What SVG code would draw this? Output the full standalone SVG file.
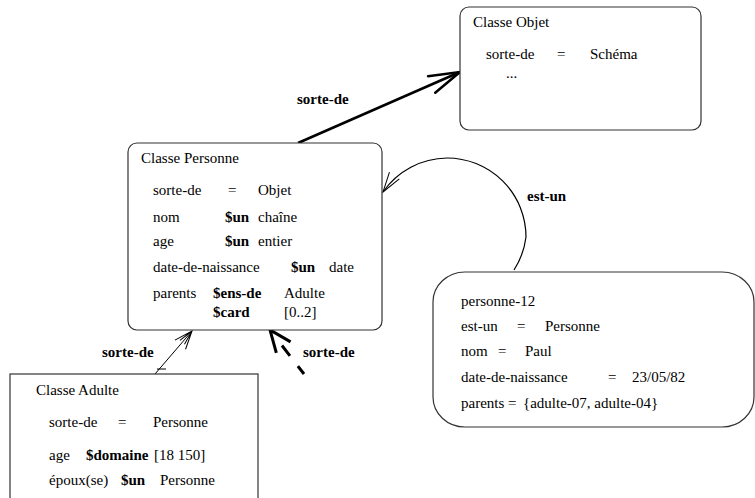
<svg xmlns="http://www.w3.org/2000/svg" width="755" height="498" viewBox="0 0 755 498">
<style>
text{font-family:"Liberation Serif","Times New Roman",serif;font-size:15px;fill:#000}
.b{font-weight:bold}
.box{fill:#fff;stroke:#333;stroke-width:1.2}
.c{fill:none;stroke:#000}
</style>
<defs>
<marker id="hThick" markerUnits="userSpaceOnUse" markerWidth="40" markerHeight="30" viewBox="-35 -15 40 30" refX="0" refY="0" orient="auto" overflow="visible">
<path d="M -31 -9 L 0 0 L -31 9" fill="none" stroke="#000" stroke-width="2.5" stroke-linecap="round"/>
</marker>
<marker id="hThin" markerUnits="userSpaceOnUse" markerWidth="30" markerHeight="20" viewBox="-25 -10 30 20" refX="0" refY="0" orient="auto" overflow="visible">
<path d="M -20 -6 L 0 0 L -20 6" fill="none" stroke="#000" stroke-width="1"/>
</marker>
<marker id="hDouble" markerUnits="userSpaceOnUse" markerWidth="30" markerHeight="20" viewBox="-25 -10 30 20" refX="0" refY="0" orient="auto" overflow="visible">
<path d="M -18 -7 L 0 0 L -18 7 M -15 -3 L 0 0 L -15 3" fill="none" stroke="#000" stroke-width="1"/>
</marker>
<marker id="hDash" markerUnits="userSpaceOnUse" markerWidth="30" markerHeight="30" viewBox="-25 -15 30 30" refX="0" refY="0" orient="auto" overflow="visible">
<path d="M -22 -9 L 0 0 L -22 9" fill="none" stroke="#000" stroke-width="3"/>
</marker>
</defs>

<g id="connectors">
<path class="c" d="M 298 143 L 460 72" stroke-width="2.5" marker-end="url(#hThick)"/>
<path class="c" d="M 514 270 A 79 79 0 0 0 526 237 A 79 79 0 0 0 447 158 A 79 79 0 0 0 383 192" stroke-width="1.2" marker-end="url(#hThin)"/>
<path class="c" d="M 155 374 L 192 331" stroke-width="1" marker-end="url(#hDouble)"/>
<path class="c" d="M 157 369 L 166 369" stroke-width="1"/>
<path class="c" d="M 304 374 L 270 330" stroke-width="3" stroke-dasharray="10 13 13 40" marker-end="url(#hDash)"/>
<text class="b" x="297" y="104">sorte-de</text>
<text class="b" x="527" y="201">est-un</text>
<text class="b" x="102" y="357">sorte-de</text>
<text class="b" x="303" y="357">sorte-de</text>
</g>

<g id="objet">
<rect class="box" x="460" y="7" width="241" height="123" rx="9"/>
<text x="473" y="27">Classe Objet</text>
<text x="486" y="59">sorte-de</text>
<text x="557" y="59">=</text>
<text x="590" y="59">Schéma</text>
<text x="506" y="78">...</text>
</g>

<g id="personne">
<rect class="box" x="128" y="143" width="254" height="187" rx="9"/>
<text x="141" y="163">Classe Personne</text>
<text x="153" y="195">sorte-de</text>
<text x="228" y="195">=</text>
<text x="258" y="195">Objet</text>
<text x="153" y="222">nom</text>
<text class="b" x="225" y="222">$un</text>
<text x="258" y="222">chaîne</text>
<text x="153" y="246">age</text>
<text class="b" x="225" y="246">$un</text>
<text x="258" y="246">entier</text>
<text x="153" y="272">date-de-naissance</text>
<text class="b" x="291" y="272">$un</text>
<text x="329" y="272">date</text>
<text x="153" y="298">parents</text>
<text class="b" x="213" y="298">$ens-de</text>
<text x="284" y="298">Adulte</text>
<text class="b" x="213" y="317">$card</text>
<text x="284" y="317">[0..2]</text>
</g>

<g id="adulte">
<rect class="box" x="10" y="374" width="248" height="140"/>
<text x="36" y="395">Classe Adulte</text>
<text x="49" y="427">sorte-de</text>
<text x="118" y="427">=</text>
<text x="153" y="427">Personne</text>
<text x="49" y="460">age</text>
<text class="b" x="86" y="460">$domaine</text>
<text x="154" y="460">[18 150]</text>
<text x="49" y="485">époux(se)</text>
<text class="b" x="121" y="485">$un</text>
<text x="160" y="485">Personne</text>
</g>

<g id="personne-12">
<rect class="box" x="433" y="272" width="321" height="155" rx="32" ry="30"/>
<text x="461" y="306">personne-12</text>
<text x="461" y="331">est-un</text>
<text x="517" y="331">=</text>
<text x="545" y="331">Personne</text>
<text x="461" y="356">nom</text>
<text x="498" y="356">=</text>
<text x="525" y="356">Paul</text>
<text x="461" y="382">date-de-naissance</text>
<text x="608" y="382">=</text>
<text x="632" y="382">23/05/82</text>
<text x="461" y="408">parents</text>
<text x="508" y="408">=</text>
<text x="523" y="408">{adulte-07, adulte-04}</text>
</g>
</svg>
